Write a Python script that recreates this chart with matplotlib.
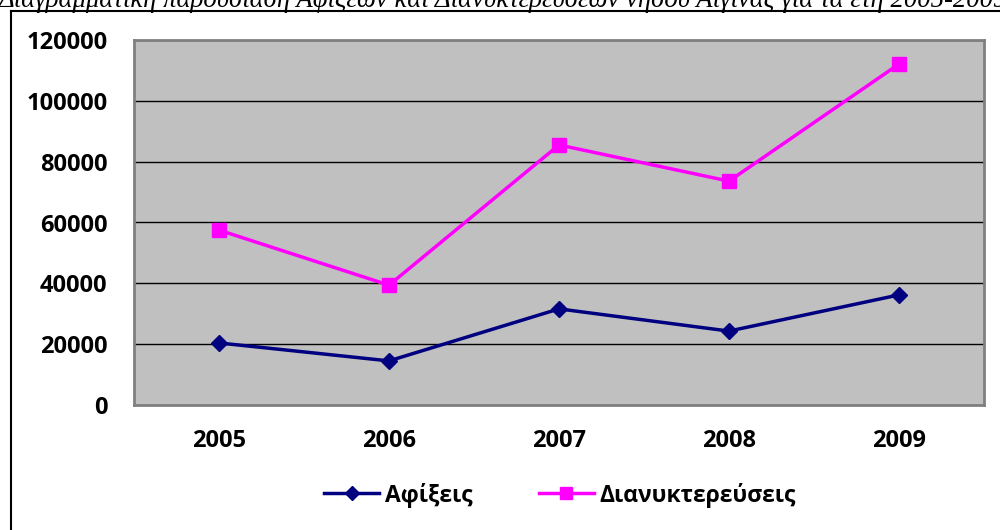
import matplotlib
matplotlib.use("Agg")
import matplotlib.pyplot as plt
from matplotlib.lines import Line2D

years = ["2005", "2006", "2007", "2008", "2009"]
arrivals = [20400, 14500, 31600, 24300, 36200]
overnights = [57500, 39400, 85500, 73600, 112100]
yticks = [0, 20000, 40000, 60000, 80000, 100000, 120000]
title = "Διαγραμματική παρουσίαση Αφίξεων και Διανυκτερεύσεων νήσου Αίγινας για τα έτη 2005-2009"

FAM = ['Open Sans', 'DejaVu Sans']
plt.rcParams['font.family'] = FAM

W, H = 1000, 530
fig = plt.figure(figsize=(W/100, H/100), dpi=100)
ax = fig.add_axes([134/W, 1-405/H, (984-134)/W, (405-40)/H])
ax.set_facecolor('#C0C0C0')

x = range(len(years))
ax.plot(x, arrivals, color='#000080', lw=2.5, marker='D', ms=8, label='Αφίξεις', zorder=3)
ax.plot(x, overnights, color='#FF00FF', lw=2.5, marker='s', ms=10, label='Διανυκτερεύσεις', zorder=3)

ax.set_xlim(-0.5, 4.5)
ax.set_ylim(0, 120000)
ax.set_yticks(yticks)
ax.set_yticklabels([str(v) for v in yticks], fontweight='bold', fontsize=17)
ax.set_xticks(list(x))
ax.set_xticklabels(years, fontweight='bold', fontsize=17)
ax.yaxis.grid(True, color='black', lw=1)
ax.set_axisbelow(True)
ax.tick_params(length=0)
ax.tick_params(axis='y', pad=19)
ax.tick_params(axis='x', pad=17)
for s in ax.spines.values():
    s.set_color('#808080')
    s.set_linewidth(2)

leg = fig.legend(handles=[
    Line2D([], [], color='#000080', lw=2.5, marker='D', ms=7),
    Line2D([], [], color='#FF00FF', lw=2.5, marker='s', ms=9)],
    labels=['Αφίξεις', 'Διανυκτερεύσεις'],
    loc='center', bbox_to_anchor=(560/W, 1-495/H), ncol=2, frameon=False,
    prop={'weight': 'bold', 'size': 16.5}, handlelength=2.4, columnspacing=2.9,
    handletextpad=0.25)

# outer frame
fig.add_artist(Line2D([11/W, 11/W], [0, 1-11/H], color='black', lw=1.5))
fig.add_artist(Line2D([11/W, 1], [1-11/H, 1-11/H], color='black', lw=1.5))

fig.text(-1/W, 1-7/H, title, ha='left', va='baseline', fontsize=19.3,
         family='Liberation Serif', style='italic')

fig.savefig('out.png', dpi=100)
